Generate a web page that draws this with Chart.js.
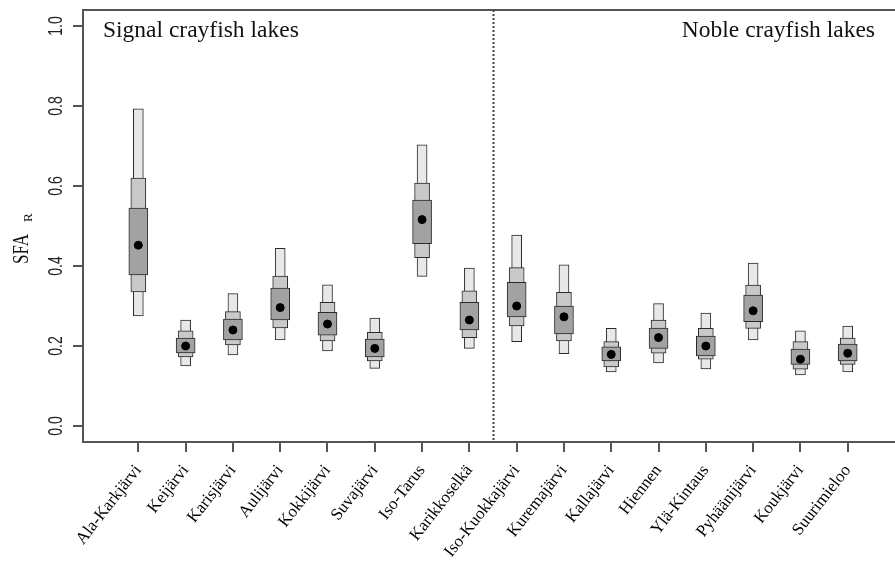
<!DOCTYPE html>
<html>
<head>
<meta charset="utf-8">
<script src="https://cdn.jsdelivr.net/npm/chart.js@4.4.1/dist/chart.umd.min.js"></script>
<style>
    body { margin: 0; background: #fff; }
    canvas { display: block; }
</style>
</head>
<body>
<canvas id="sfa-chart" width="895" height="564"></canvas>
<script>
const lakes = [
    'Ala-Karkjärvi', 'Keijärvi', 'Karisjärvi', 'Aulijärvi', 'Kokkijärvi',
    'Suvajärvi', 'Iso-Tarus', 'Karikkoselkä', 'Iso-Kuokkajärvi', 'Kuremajärvi',
    'Kallajärvi', 'Hiennen', 'Ylä-Kintaus', 'Pyhäänijärvi', 'Koukjärvi',
    'Suurimieloo',
];
const meanValues = [0.452, 0.200, 0.240, 0.296, 0.255, 0.194, 0.516, 0.265,
    0.300, 0.273, 0.179, 0.221, 0.200, 0.288, 0.167, 0.182];
const ci50Low = [0.378, 0.183, 0.215, 0.265, 0.227, 0.173, 0.456, 0.240,
    0.273, 0.230, 0.163, 0.194, 0.175, 0.261, 0.154, 0.163];
const ci50High = [0.545, 0.220, 0.267, 0.345, 0.284, 0.217, 0.565, 0.309,
    0.359, 0.300, 0.198, 0.245, 0.225, 0.327, 0.192, 0.205];
const ci75Low = [0.335, 0.173, 0.203, 0.245, 0.213, 0.163, 0.421, 0.221,
    0.250, 0.213, 0.148, 0.182, 0.167, 0.244, 0.142, 0.154];
const ci75High = [0.620, 0.238, 0.286, 0.375, 0.309, 0.234, 0.607, 0.338,
    0.396, 0.334, 0.211, 0.265, 0.244, 0.352, 0.211, 0.220];
const ci95Low = [0.275, 0.150, 0.178, 0.215, 0.188, 0.144, 0.374, 0.194,
    0.211, 0.181, 0.135, 0.158, 0.143, 0.215, 0.128, 0.135];
const ci95High = [0.793, 0.265, 0.331, 0.444, 0.353, 0.270, 0.703, 0.395,
    0.477, 0.403, 0.244, 0.306, 0.282, 0.407, 0.238, 0.250];
const yTickValues = [0, 0.2, 0.4, 0.6, 0.8, 1.0];
const groupTitles = ['Signal crayfish lakes', 'Noble crayfish lakes'];
const dividerAt = 8.5; // between the two lake groups

const frameColor = '#555';

function toRange(lows, highs) {
    return lows.map((low, i) => ({ x: i + 1, y: [low, highs[i]] }));
}

function intervalDataset(label, lows, highs, color, thickness, order) {
    return {
        type: 'bar',
        label: label,
        data: toRange(lows, highs),
        backgroundColor: color,
        borderColor: '#2a2a2a',
        borderWidth: 1,
        borderSkipped: false,
        barThickness: thickness,
        grouped: false,
        order: order,
    };
}

const framePlugin = {
    id: 'framePlugin',
    afterDraw(chart) {
        const { ctx, chartArea, scales } = chart;
        ctx.save();

        // top edge of the frame
        ctx.strokeStyle = frameColor;
        ctx.lineWidth = 2;
        ctx.beginPath();
        ctx.moveTo(chartArea.left - 1, chartArea.top);
        ctx.lineTo(chartArea.right, chartArea.top);
        ctx.stroke();

        // dotted divider between groups
        const dx = Math.round(scales.x.getPixelForValue(dividerAt)) + 0.5;
        ctx.strokeStyle = '#444';
        ctx.lineWidth = 2;
        ctx.setLineDash([2, 2]);
        ctx.beginPath();
        ctx.moveTo(dx, chartArea.top);
        ctx.lineTo(dx, chartArea.bottom);
        ctx.stroke();
        ctx.setLineDash([]);

        // group titles
        ctx.fillStyle = '#111';
        ctx.font = '23.5px "Liberation Serif", "Times New Roman", serif';
        ctx.textBaseline = 'alphabetic';
        ctx.textAlign = 'left';
        ctx.fillText(groupTitles[0], chartArea.left + 20, chartArea.top + 27);
        ctx.textAlign = 'right';
        ctx.fillText(groupTitles[1], chartArea.right - 20, chartArea.top + 27);

        // y tick labels, parallel to the axis
        ctx.fillStyle = '#222';
        ctx.font = '14px "Liberation Sans", Arial, sans-serif';
        ctx.textAlign = 'center';
        for (const v of yTickValues) {
            const py = scales.y.getPixelForValue(v);
            ctx.save();
            ctx.translate(chartArea.left - 21, py);
            ctx.rotate(-Math.PI / 2);
            ctx.scale(1, 1.45);
            ctx.fillText(v.toFixed(1), 0, 0);
            ctx.restore();
        }

        // y axis title SFA with subscript R
        const midY = (chartArea.top + chartArea.bottom) / 2;
        ctx.save();
        ctx.translate(28, midY + 38);
        ctx.rotate(-Math.PI / 2);
        ctx.textAlign = 'left';
        ctx.fillStyle = '#111';
        ctx.save();
        ctx.scale(1, 1.35);
        ctx.font = '17px "Liberation Serif", "Times New Roman", serif';
        ctx.fillText('SFA', 0, 0);
        const w = ctx.measureText('SFA').width;
        ctx.restore();
        ctx.font = '13px "Liberation Serif", "Times New Roman", serif';
        ctx.fillText('R', w + 12, 4);
        ctx.restore();

        ctx.restore();
    },
};

new Chart(document.getElementById('sfa-chart'), {
    type: 'bar',
    data: {
        datasets: [
            {
                type: 'scatter',
                label: 'Mean',
                data: meanValues.map((v, i) => ({ x: i + 1, y: v })),
                backgroundColor: '#000',
                borderColor: '#000',
                pointRadius: 4,
                pointStyle: 'circle',
                showLine: false,
                order: 0,
            },
            intervalDataset('50%', ci50Low, ci50High, '#a2a2a2', 19, 1),
            intervalDataset('75%', ci75Low, ci75High, '#c9c9c9', 15, 2),
            intervalDataset('95%', ci95Low, ci95High, '#e8e8e8', 10, 3),
        ],
    },
    options: {
        responsive: false,
        animation: false,
        layout: {
            autoPadding: false,
            padding: { top: 10, left: 0, right: 0, bottom: 0 },
        },
        plugins: {
            legend: { display: false },
            tooltip: { enabled: false },
        },
        scales: {
            x: {
                type: 'linear',
                min: -0.17,
                max: 17,
                offset: false,
                afterBuildTicks: (scale) => {
                    scale.ticks = lakes.map((_, i) => ({ value: i + 1 }));
                },
                afterFit: (scale) => {
                    scale.height = 122;
                    scale.paddingLeft = 0;
                    scale.paddingRight = 0;
                },
                ticks: {
                    autoSkip: false,
                    minRotation: 52,
                    maxRotation: 52,
                    padding: 9,
                    color: '#000',
                    font: { family: '"Liberation Serif", "Times New Roman", serif', size: 17 },
                    callback: (value) => lakes[value - 1] || '',
                },
                grid: {
                    offset: false,
                    drawOnChartArea: false,
                    drawTicks: true,
                    tickLength: 10,
                    color: frameColor,
                    lineWidth: 2,
                },
                border: { display: true, color: frameColor, width: 2 },
            },
            y: {
                min: -0.04,
                max: 1.04,
                afterBuildTicks: (scale) => {
                    scale.ticks = yTickValues.map((v) => ({ value: v }));
                },
                afterFit: (scale) => {
                    scale.width = 83;
                },
                ticks: { display: false },
                grid: {
                    drawOnChartArea: false,
                    drawTicks: true,
                    tickLength: 10,
                    color: frameColor,
                    lineWidth: 2,
                },
                border: { display: true, color: frameColor, width: 2 },
            },
        },
    },
    plugins: [framePlugin],
});
</script>
</body>
</html>
